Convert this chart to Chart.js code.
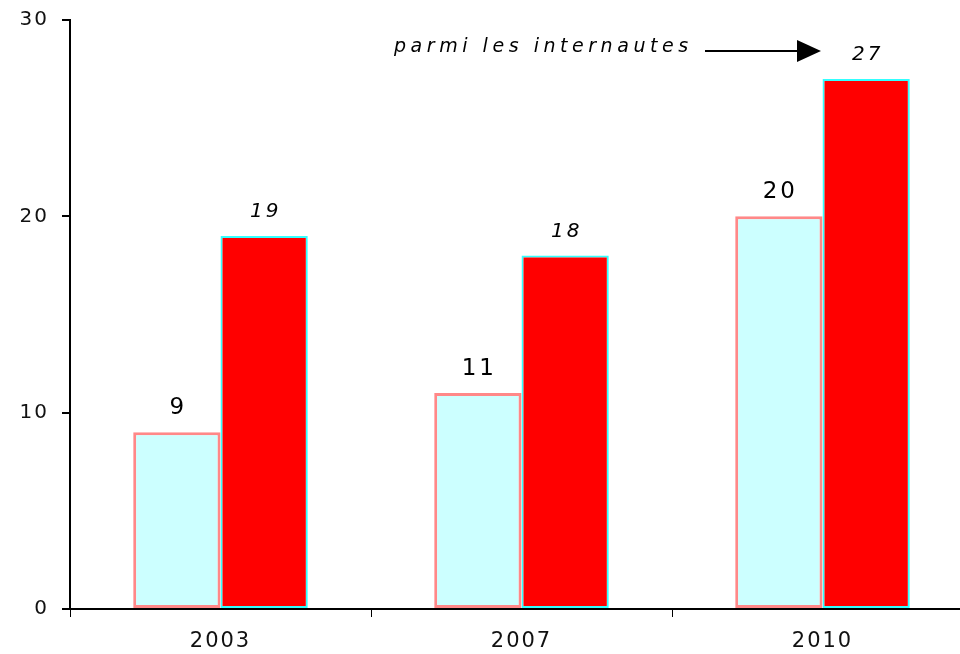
<!DOCTYPE html>
<html>
<head>
<meta charset="utf-8">
<script src="https://cdn.jsdelivr.net/npm/chart.js@4/dist/chart.umd.min.js"></script>
<style>
html,body{margin:0;padding:0;background:#fff;overflow:hidden;width:960px;height:654px;}
#wrap{position:relative;width:975px;height:654px;}
</style>
</head>
<body>
<div id="wrap"><canvas id="c"></canvas></div>
<script>
const categories = ["2003", "2007", "2010"];
const seriesAll = [9, 11, 20];
const seriesInternautes = [19, 18, 27];
const yTicks = [0, 10, 20, 30];
const annotationText = "parmi les internautes";

const spacingPlugin = {
  id: 'spacing',
  beforeDraw(chart) { chart.ctx.letterSpacing = '2px'; }
};

const labelPlugin = {
  id: 'labels',
  afterDatasetsDraw(chart) {
    const ctx = chart.ctx;
    ctx.save();
    ctx.textBaseline = 'middle';
    chart.data.datasets.forEach((ds, di) => {
      const meta = chart.getDatasetMeta(di);
      meta.data.forEach((bar, i) => {
        const txt = String(ds.data[i]);
        ctx.font = di === 0 ? '23px "DejaVu Sans"' : 'italic 20px "DejaVu Sans"';
        ctx.fillStyle = '#000';
        const chars = txt.split('');
        const sp = 3;
        ctx.letterSpacing = '0px';
        const widths = chars.map(c => ctx.measureText(c).width);
        const total = widths.reduce((a, b) => a + b, 0) + sp * (chars.length - 1);
        let x = bar.x - total / 2;
        ctx.textAlign = 'left';
        chars.forEach((c, k) => {
          ctx.fillText(c, x, bar.y - 24);
          x += widths[k] + sp;
        });
      });
    });
    // annotation
    const target = chart.getDatasetMeta(1).data[2];
    const ay = target.y - 29;
    ctx.font = 'italic 19px "DejaVu Sans"';
    ctx.fillStyle = '#000';
    ctx.textAlign = 'left';
    ctx.letterSpacing = '0px';
    const w0 = ctx.measureText(annotationText).width;
    const n = annotationText.length;
    const sp = Math.max(0, (294 - w0) / (n - 1));
    ctx.letterSpacing = sp.toFixed(2) + 'px';
    ctx.fillText(annotationText, 394, ay - 3);
    ctx.letterSpacing = '0px';
    ctx.strokeStyle = '#000';
    ctx.lineWidth = 2;
    ctx.beginPath();
    ctx.moveTo(705, ay + 1);
    ctx.lineTo(800, ay + 1);
    ctx.stroke();
    ctx.fillStyle = '#000';
    ctx.beginPath();
    ctx.moveTo(797, ay - 10);
    ctx.lineTo(821, ay + 1);
    ctx.lineTo(797, ay + 12);
    ctx.closePath();
    ctx.fill();
    ctx.restore();
  }
};

new Chart(document.getElementById('c'), {
  type: 'bar',
  data: {
    labels: categories,
    datasets: [
      {
        data: seriesAll,
        backgroundColor: '#ccffff',
        borderColor: '#ff8888',
        borderWidth: 3,
        borderSkipped: false
      },
      {
        data: seriesInternautes,
        backgroundColor: '#ff0000',
        borderColor: '#33ffff',
        borderWidth: 2,
        borderSkipped: false
      }
    ]
  },
  options: {
    responsive: true,
    maintainAspectRatio: false,
    animation: false,
    devicePixelRatio: 1,
    layout: { padding: { top: 20, right: 2, left: 0, bottom: 0 } },
    plugins: { legend: { display: false }, tooltip: { enabled: false } },
    datasets: { bar: { categoryPercentage: 0.58, barPercentage: 1.0 } },
    scales: {
      x: {
        offset: true,
        grid: { offset: true, drawOnChartArea: false, drawTicks: true, tickLength: 8, color: '#000', lineWidth: 1 },
        border: { color: '#000', width: 2 },
        ticks: { color: '#111', font: { family: 'DejaVu Sans', size: 21 }, padding: 12 },
        afterFit(s) { s.height = 45; }
      },
      y: {
        min: 0,
        max: 30,
        afterBuildTicks(s) { s.ticks = yTicks.map(v => ({ value: v })); },
        grid: { drawOnChartArea: false, drawTicks: true, tickLength: 8, color: '#000', lineWidth: 2 },
        border: { color: '#000', width: 2 },
        ticks: { color: '#111', font: { family: 'DejaVu Sans', size: 20, lineHeight: 1 }, padding: 13 },
        afterFit(s) { s.width = 70; s.paddingTop = 0; s.paddingBottom = 0; }
      }
    }
  },
  plugins: [spacingPlugin, labelPlugin]
});
</script>
</body>
</html>
